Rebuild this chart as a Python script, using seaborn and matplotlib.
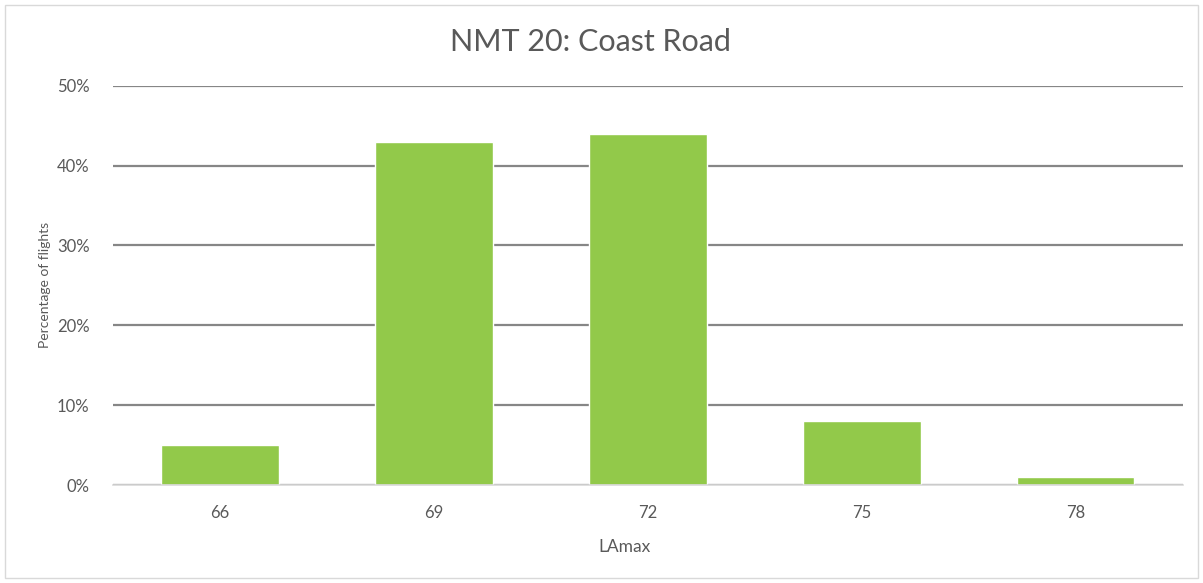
import numpy as np
import pandas as pd
import seaborn as sns
import matplotlib.pyplot as plt
from matplotlib.ticker import PercentFormatter
from matplotlib.patches import Rectangle

lamax = ["66", "69", "72", "75", "78"]
pct = [5, 43, 44, 8, 1]

df = pd.DataFrame({"LAmax": lamax, "pct": pct})

sns.set_style("white")
plt.rcParams["font.family"] = ["Lato", "DejaVu Sans"]

fig = plt.figure(figsize=(12.03, 5.83), dpi=100)
ax = fig.add_axes([0.094, 0.168, 0.889, 0.685])
sns.barplot(data=df, x="LAmax", y="pct", color="#92c94a", saturation=1, width=0.55, ax=ax)

ax.set_ylim(0, 50)
ax.set_yticks(np.arange(0, 51, 10))
ax.yaxis.set_major_formatter(PercentFormatter(decimals=0))
ax.grid(axis="y", color="#868686", linewidth=1.6)
ax.set_axisbelow(True)
for s in ["top", "right", "left"]:
    ax.spines[s].set_visible(False)
ax.spines["bottom"].set_color("#d9d9d9")
ax.spines["bottom"].set_linewidth(1.2)
ax.tick_params(axis="both", length=0, labelsize=12, colors="#595959", pad=14)
ax.tick_params(axis="y", pad=17)

fig.suptitle("NMT 20: Coast Road", fontsize=22, color="#595959", x=0.491, y=0.928, va="center")
ax.set_xlabel("LAmax", fontsize=12.5, color="#595959", labelpad=10)
ax.xaxis.set_label_coords(0.478, -0.135)
ax.set_ylabel("Percentage of flights", fontsize=10, color="#595959", labelpad=4)

fig.patches.append(Rectangle((0.004, 0.008), 0.992, 0.984, transform=fig.transFigure,
                             fill=False, edgecolor="#d9d9d9", linewidth=1))

fig.savefig("out.png", dpi=100)
